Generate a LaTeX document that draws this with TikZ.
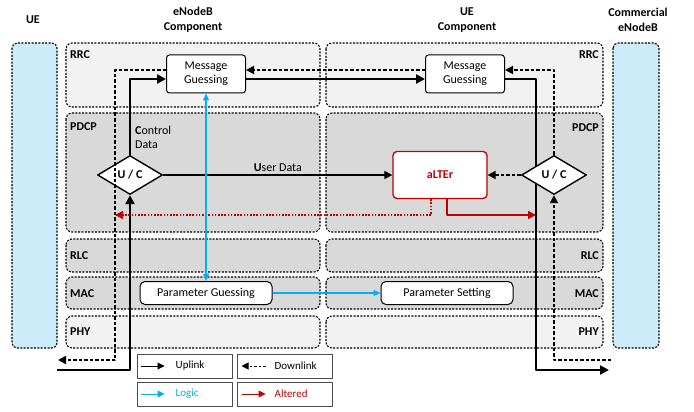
\documentclass[tikz,border=0pt]{standalone}
\usepackage{fontspec}
\setmainfont{Carlito}
\usetikzlibrary{arrows.meta,shapes.geometric,positioning,calc}

\definecolor{uefill}{RGB}{204,236,250}
\definecolor{layerlight}{RGB}{242,242,242}
\definecolor{layerdark}{RGB}{217,217,217}
\definecolor{logicblue}{RGB}{0,176,240}
\definecolor{alterred}{RGB}{192,0,0}

\begin{document}
\begin{tikzpicture}[x=1pt,y=-1pt,line join=round,font=\fontsize{12}{14}\selectfont,
  dashbox/.style={draw,dash pattern=on 2pt off 1.4pt,line width=1.1pt,rounded corners=6pt},
  title/.style={font=\fontsize{12}{15}\selectfont\bfseries,align=center},
  layerlbl/.style={font=\fontsize{12}{14}\selectfont\bfseries,inner sep=1pt},
  msgbox/.style={draw,fill=white,line width=1pt,rounded corners=3pt,align=center,
    minimum width=79pt,minimum height=38pt,inner sep=1pt},
  parbox/.style={draw,fill=white,line width=1pt,rounded corners=5pt,
    minimum width=132pt,minimum height=23pt,inner sep=1pt},
  splitter/.style={diamond,draw,fill=white,line width=1.4pt,aspect=1.67,inner sep=0pt,
    minimum width=65pt,minimum height=39pt,font=\fontsize{12}{14}\selectfont\bfseries},
  uplink/.style={line width=2.4pt,-{Triangle[length=9pt,width=9pt]}},
  downlink/.style={line width=1.8pt,dash pattern=on 3.5pt off 2pt,-{Triangle[length=8pt,width=8pt]}},
  userdata/.style={line width=1.2pt,-{Triangle[length=8pt,width=8pt]}},
  logic/.style={draw=logicblue,line width=1.2pt,-{Triangle[length=7pt,width=6pt]}},
  altered/.style={draw=alterred,line width=1.4pt,-{Triangle[length=8pt,width=8pt]}},
  legbox/.style={draw=black!70,line width=1pt,minimum width=95pt,minimum height=24pt,inner sep=0pt},
  leglbl/.style={anchor=west,font=\fontsize{11}{13}\selectfont,inner sep=0pt}]

  \useasboundingbox (0,0) rectangle (694,412);

  % ---- end stations -------------------------------------------------------
  \draw[dashbox,fill=uefill,rounded corners=5pt] (12,43) rectangle (57,348);
  \draw[dashbox,fill=uefill,rounded corners=5pt] (613,43) rectangle (659,348);

  \node[title] (tUE)   at (33,20)  {UE};
  \node[title] (tENB)  at (193,20) {eNodeB\\Component};
  \node[title] (tUEC)  at (467,20) {UE\\Component};
  \node[title] (tCENB) at (638,20) {Commercial\\eNodeB};

  % ---- protocol layers, one row per layer ----------------------------------
  \foreach \ytop/\ybot/\shade/\lay/\yl/\yr in {43/107/layerlight/RRC/55/55,
      113/232/layerdark/PDCP/127/128, 239/272/layerdark/RLC/256/256,
      277/309/layerdark/MAC/294/294, 316/348/layerlight/PHY/332/332}{
    \draw[dashbox,fill=\shade] (66,\ytop) rectangle (320,\ybot);
    \draw[dashbox,fill=\shade] (326,\ytop) rectangle (603,\ybot);
    \node[layerlbl,anchor=west] (l\lay) at (69,\yl) {\lay};
    \node[layerlbl,anchor=east] (r\lay) at (600,\yr) {\lay};
  }

  % ---- blocks ---------------------------------------------------------------
  \node[msgbox] (mgL) at (206,74) {Message\\Guessing};
  \node[msgbox] (mgR) at (465,74) {Message\\Guessing};
  \node[parbox] (pg) at (206,293) {Parameter Guessing};
  \node[parbox] (ps) at (447,293) {Parameter Setting};

  % free ends of the long paths
  \coordinate (ulIn)    at (57,370);
  \coordinate (ulTurn)  at (536,370);
  \coordinate (ulOut)   at (609,370);
  \coordinate (dlIn)    at (611,360);
  \coordinate (dlTurn)  at (115,360);
  \coordinate (dlOut)   at (58,360);
  \coordinate (altOut)  at (536,215);
  \coordinate (altBack) at (115,215);

  % the right-hand uplink runs behind the U/C splitter
  \draw[uplink] ([yshift=-5pt]mgR.east) -| (ulTurn) -- (ulOut);

  \node[splitter] (ucL) at (130,175) {U / C};
  \node[splitter] (ucR) at (554,175) {U / C};
  \node[draw=alterred,fill=white,line width=1.3pt,rounded corners=4pt,
    minimum width=94pt,minimum height=47pt,text=alterred,font=\fontsize{12}{14}\selectfont\bfseries]
    (alter) at (440,175) {aLTEr};

  % ---- uplink ---------------------------------------------------------------
  \draw[uplink] (ulIn) -| (ucL.south);
  \draw[uplink] (ucL.north) |- ([yshift=-5pt]mgL.west);
  \draw[uplink] ([yshift=-5pt]mgL.east) -- ([yshift=-5pt]mgR.west);
  \draw[userdata] (ucL.east) -- (alter.west)
    node[midway,above=3pt,inner sep=0pt] (udLbl) {\textbf{U}ser Data};
  \node[anchor=north west,align=left,inner sep=0pt] (cdLbl) at (135,126) {\textbf{C}ontrol\\Data};

  % ---- downlink -------------------------------------------------------------
  \draw[downlink] (dlIn) -| (ucR.south);
  \draw[downlink] (ucR.west) -- (alter.east);
  \draw[downlink] (ucR.north) |- ([yshift=4pt]mgR.east);
  \draw[downlink] ([yshift=4pt]mgR.west) -- ([yshift=4pt]mgL.east);
  \draw[downlink] ([yshift=4pt]mgL.west) -| (dlTurn) -- (dlOut);

  % ---- altered traffic ------------------------------------------------------
  \draw[altered] ([xshift=7pt]alter.south) |- (altOut);
  \draw[altered,line width=1.2pt,dash pattern=on 1.6pt off 1.6pt] ([xshift=-9pt]alter.south) |- (altBack);

  % ---- logic ----------------------------------------------------------------
  \draw[logic,{Triangle[length=7pt,width=6pt]}-{Triangle[length=7pt,width=6pt]}] (mgL.south) -- (pg.north);
  \draw[logic] (pg.east) -- (ps.west);

  % ---- legend ---------------------------------------------------------------
  \node[legbox] (lgUp)   at (184.5,366) {};
  \node[legbox] (lgDown) at (284.5,366) {};
  \node[legbox] (lgLog)  at (184.5,394) {};
  \node[legbox] (lgAlt)  at (284.5,394) {};

  \draw[line width=1pt,-{Triangle[length=7pt,width=7pt]}]
    ([xshift=4pt]lgUp.west) -- ([xshift=28pt]lgUp.west);
  \draw[line width=1pt,dash pattern=on 2.5pt off 2pt,-{Triangle[length=7pt,width=7pt]}]
    ([xshift=29pt]lgDown.west) -- ([xshift=5pt]lgDown.west);
  \draw[draw=logicblue,line width=1pt,-{Triangle[length=7pt,width=7pt]}]
    ([xshift=4pt]lgLog.west) -- ([xshift=28pt]lgLog.west);
  \draw[draw=alterred,line width=1pt,-{Triangle[length=7pt,width=7pt]}]
    ([xshift=5pt]lgAlt.west) -- ([xshift=29pt]lgAlt.west);

  \node[leglbl] (tUp)   at ([xshift=39pt]lgUp.west)   {Uplink};
  \node[leglbl] (tDown) at ([xshift=38pt]lgDown.west) {Downlink};
  \node[leglbl,text=logicblue] (tLog) at ([xshift=39pt]lgLog.west) {Logic};
  \node[leglbl,text=alterred]  (tAlt) at ([xshift=38pt]lgAlt.west) {Altered};

\end{tikzpicture}
\end{document}
